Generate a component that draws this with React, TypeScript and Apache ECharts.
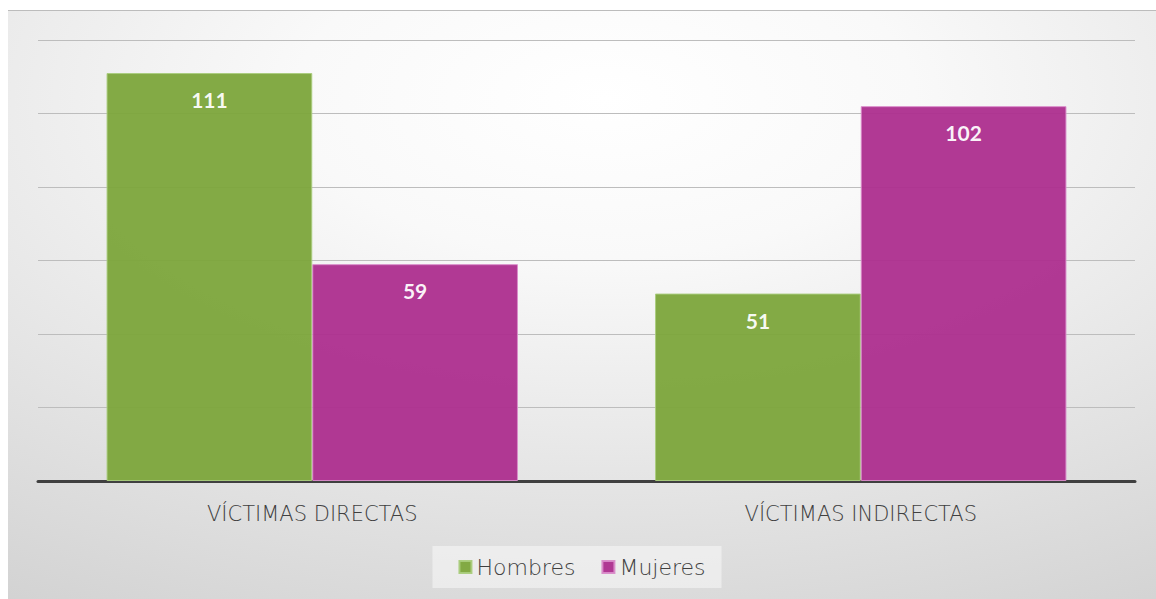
import React, { useEffect, useRef } from "react";
import * as echarts from "echarts";

const categories = ["VÍCTIMAS DIRECTAS", "VÍCTIMAS INDIRECTAS"];
const seriesNames = ["Hombres", "Mujeres"];
const hombres = [111, 51];
const mujeres = [59, 102];
const yMax = 120;
const yInterval = 20;

export default function App() {
  const ref = useRef<HTMLDivElement>(null);
  useEffect(() => {
    document.documentElement.style.overflow = "hidden";
    document.body.style.overflow = "hidden";
    const chart = echarts.init(ref.current!, null, { renderer: "svg" });
    const font = "Lato, 'Noto Sans', sans-serif";
    const wideFont = "'DejaVu Sans', sans-serif";
    const labelCfg = {
      show: true,
      position: "insideTop",
      distance: 16,
      color: "#ffffff",
      fontSize: 21,
      fontWeight: "bold",
      fontFamily: font,
    };
    chart.setOption({
      animation: false,
      backgroundColor: {
        type: "radial",
        x: 0.52,
        y: 0.15,
        r: 1.35,
        colorStops: [
          { offset: 0, color: "#ffffff" },
          { offset: 0.2, color: "#f9f9f9" },
          { offset: 1, color: "#c0c0c0" },
        ],
      },
      graphic: [
        {
          type: "line",
          shape: { x1: 0, y1: 0.5, x2: 1148, y2: 0.5 },
          style: { stroke: "#bcbcbc", lineWidth: 1 },
          silent: true,
        },
      ],
      grid: { left: 30, right: 21, top: 30, bottom: 118, containLabel: false },
      legend: {
        data: seriesNames,
        bottom: 11,
        left: "center",
        itemWidth: 12,
        itemHeight: 12,
        itemGap: 26,
        icon: "rect",
        backgroundColor: "rgba(255,255,255,0.45)",
        padding: [10, 16, 10, 26],
        textStyle: { fontSize: 22, color: "#404040", fontFamily: wideFont, fontWeight: 300 },
      },
      xAxis: {
        type: "category",
        data: categories,
        axisLine: { lineStyle: { color: "#404040", width: 3 } },
        axisTick: { show: false },
        axisLabel: { fontSize: 21, color: "#404040", margin: 22, fontFamily: wideFont, fontWeight: 300 },
      },
      yAxis: {
        type: "value",
        min: 0,
        max: yMax,
        interval: yInterval,
        axisLabel: { show: false },
        axisLine: { show: false },
        axisTick: { show: false },
        splitLine: { lineStyle: { color: "#bdbdbd", width: 1 } },
      },
      series: [
        {
          name: seriesNames[0],
          type: "bar",
          data: hombres,
          barGap: "0%",
          barCategoryGap: "25%",
          itemStyle: { color: "#7ca53b", opacity: 0.95, borderColor: "#a9cc7c", borderWidth: 1 },
          label: labelCfg,
        },
        {
          name: seriesNames[1],
          type: "bar",
          data: mujeres,
          itemStyle: { color: "#ad2e8e", opacity: 0.95, borderColor: "#d98bc9", borderWidth: 1 },
          label: labelCfg,
        },
      ],
    });
    return () => chart.dispose();
  }, []);
  return (
    <div
      ref={ref}
      style={{ position: "absolute", left: 8, top: 10, width: 1148, height: 589 }}
    />
  );
}
